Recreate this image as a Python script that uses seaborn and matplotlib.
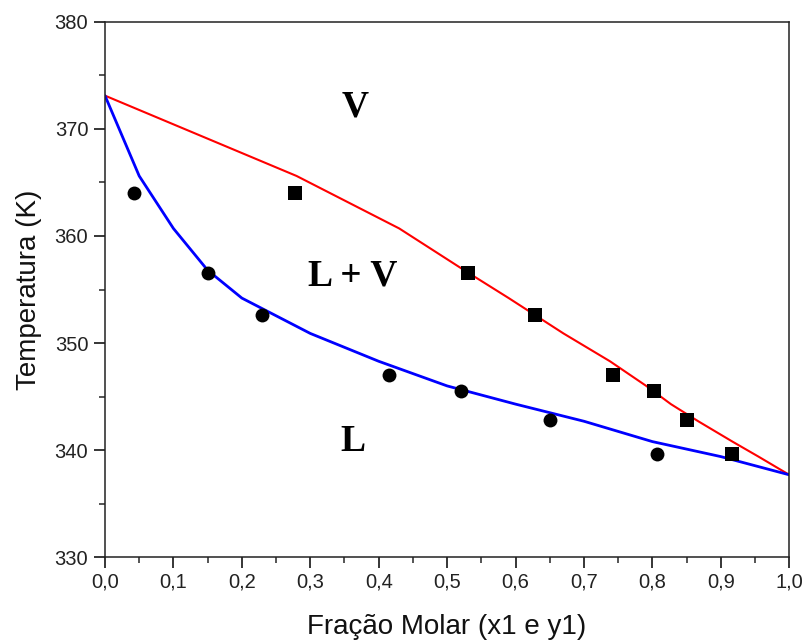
import matplotlib
matplotlib.use("Agg")
import matplotlib.pyplot as plt
from matplotlib.ticker import MultipleLocator, FuncFormatter
import numpy as np
import pandas as pd
import seaborn as sns

# Equilibrium curves: liquid (x1) and vapour (y1) mole fractions at each temperature
curve_x1 = [0.0, 0.05, 0.10, 0.15, 0.20, 0.30, 0.40, 0.50, 0.60, 0.70, 0.80, 0.90, 1.0]
curve_y1 = [0.0, 0.28, 0.43, 0.525, 0.59, 0.67, 0.738, 0.791, 0.827, 0.867, 0.917, 0.955, 1.0]
curve_T = [373.1, 365.6, 360.7, 356.8, 354.2, 350.9, 348.3, 346.0, 344.3, 342.7, 340.8, 339.4, 337.7]

# Experimental points
exp_T = [364.0, 356.5, 352.6, 347.0, 345.5, 342.8, 339.6]
exp_x1 = [0.043, 0.150, 0.230, 0.415, 0.520, 0.650, 0.806]
exp_y1 = [0.278, 0.530, 0.628, 0.743, 0.802, 0.850, 0.917]

x_label = "Fração Molar (x1 e y1)"
y_label = "Temperatura (K)"
region_labels = ["V", "L + V", "L"]
region_pos = [(0.365, 372.0), (0.362, 356.3), (0.362, 340.8)]

liq = pd.DataFrame({"x": curve_x1, "T": curve_T})
vap = pd.DataFrame({"x": curve_y1, "T": curve_T})
pts_l = pd.DataFrame({"x": exp_x1, "T": exp_T})
pts_v = pd.DataFrame({"x": exp_y1, "T": exp_T})

sns.set_theme(style="ticks")
plt.rcParams["font.family"] = ["Liberation Sans", "DejaVu Sans"]

fig = plt.figure(figsize=(8.07, 6.41), dpi=100)
ax = fig.add_axes([0.1301, 0.1306, 0.978 - 0.1301, 0.9661 - 0.1306])

sns.lineplot(data=vap, x="x", y="T", color="#ff0000", lw=1.5, sort=False, ax=ax)
sns.lineplot(data=liq, x="x", y="T", color="#0000ff", lw=2.0, sort=False, ax=ax)
sns.scatterplot(data=pts_l, x="x", y="T", marker="o", s=100, color="black",
                edgecolor="black", linewidth=0, ax=ax, zorder=3)
sns.scatterplot(data=pts_v, x="x", y="T", marker="s", s=90, color="black",
                edgecolor="black", linewidth=0, ax=ax, zorder=3)

for txt, (px, py) in zip(region_labels, region_pos):
    ax.text(px, py, txt, ha="center", va="center", fontsize=27,
            fontweight="bold", family=["Liberation Serif", "DejaVu Serif"],
            color="black")

ax.set_xlim(0, 1.0)
ax.set_ylim(330, 380)
ax.xaxis.set_major_locator(MultipleLocator(0.1))
ax.xaxis.set_minor_locator(MultipleLocator(0.05))
ax.yaxis.set_major_locator(MultipleLocator(10))
ax.yaxis.set_minor_locator(MultipleLocator(5))
ax.xaxis.set_major_formatter(FuncFormatter(lambda v, p: f"{v:.1f}".replace(".", ",")))
ax.yaxis.set_major_formatter(FuncFormatter(lambda v, p: f"{v:.0f}"))

ax.tick_params(which="major", direction="out", length=8, width=1.1,
               labelsize=14.5, colors="black", pad=3)
ax.tick_params(which="minor", direction="out", length=4.3, width=1.1)
ax.tick_params(axis="y", which="major", pad=4)
ax.tick_params(top=False, right=False, which="both")
ax.tick_params(axis="both", which="major", labelcolor="#222222")
for s in ax.spines.values():
    s.set_visible(True)
    s.set_linewidth(1.1)
    s.set_color("#222222")

ax.set_xlabel(x_label, fontsize=20, labelpad=16, color="#111111")
ax.set_ylabel(y_label, fontsize=20, labelpad=9, color="#111111")

fig.savefig("out.png", dpi=100)
